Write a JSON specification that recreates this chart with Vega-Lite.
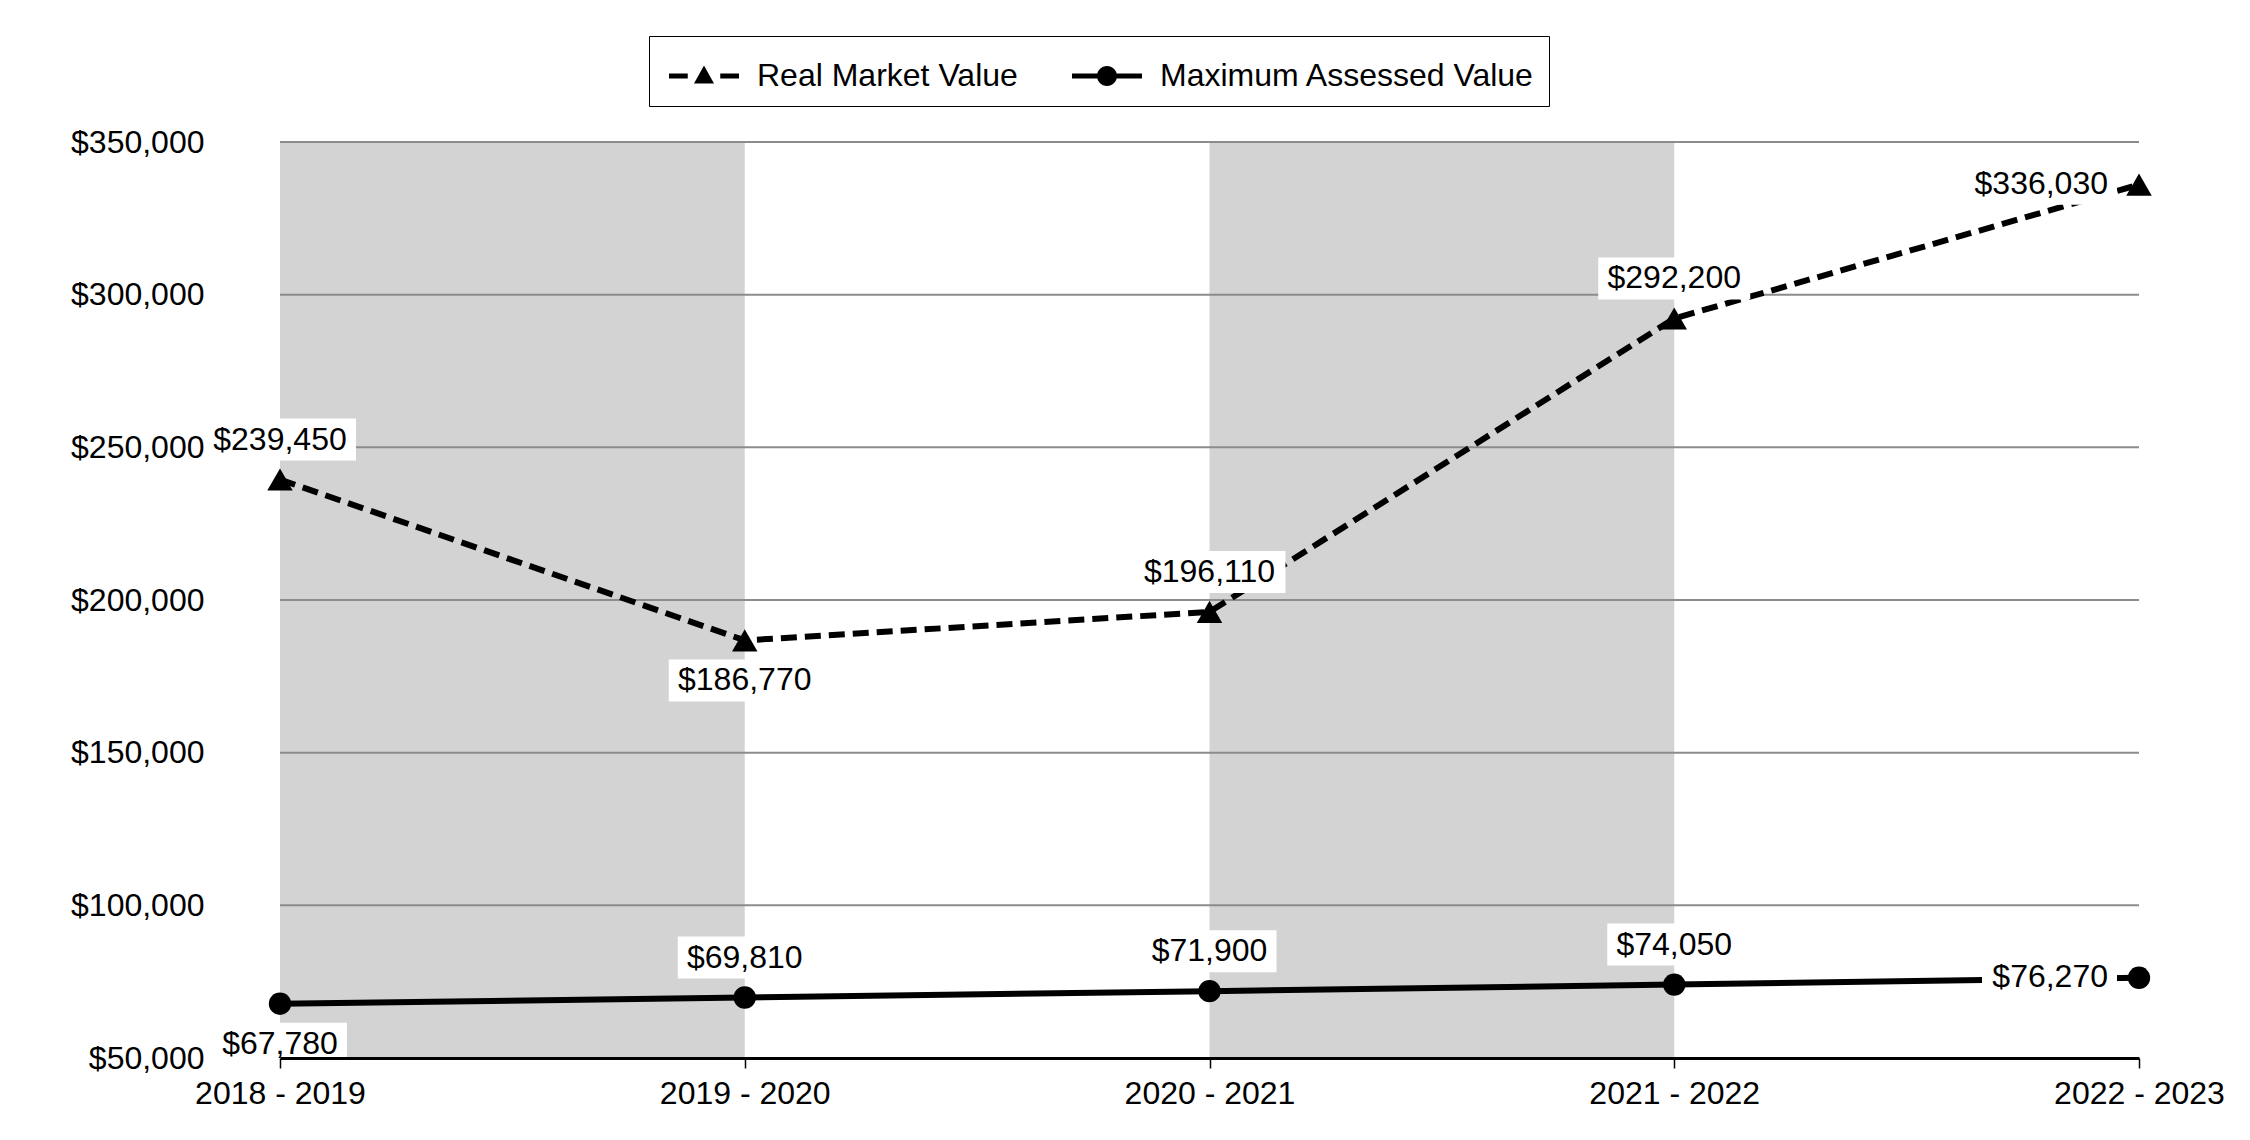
{
  "$schema": "https://vega.github.io/schema/vega-lite/v6.json",
  "width": 1859,
  "height": 916,
  "autosize": {"type": "none"},
  "padding": {"left": 280, "top": 142, "right": 111, "bottom": 82},
  "background": "white",
  "config": {"view": {"stroke": null}, "font": "Liberation Sans"},
  "datasets": {
    "values": [
      {"series": "Real Market Value", "year": "2018 - 2019", "value": 239450},
      {"series": "Real Market Value", "year": "2019 - 2020", "value": 186770},
      {"series": "Real Market Value", "year": "2020 - 2021", "value": 196110},
      {"series": "Real Market Value", "year": "2021 - 2022", "value": 292200},
      {"series": "Real Market Value", "year": "2022 - 2023", "value": 336030},
      {"series": "Maximum Assessed Value", "year": "2018 - 2019", "value": 67780},
      {"series": "Maximum Assessed Value", "year": "2019 - 2020", "value": 69810},
      {"series": "Maximum Assessed Value", "year": "2020 - 2021", "value": 71900},
      {"series": "Maximum Assessed Value", "year": "2021 - 2022", "value": 74050},
      {"series": "Maximum Assessed Value", "year": "2022 - 2023", "value": 76270}
    ],
    "bands": [
      {"year": "2018 - 2019", "end": "2019 - 2020"},
      {"year": "2020 - 2021", "end": "2021 - 2022"}
    ],
    "grid": [
      {"value": 100000}, {"value": 150000}, {"value": 200000},
      {"value": 250000}, {"value": 300000}, {"value": 350000}
    ]
  },
  "layer": [
    {
      "data": {"name": "bands"},
      "mark": {"type": "rect", "color": "#d3d3d3"},
      "encoding": {
        "x": {"field": "year", "type": "ordinal", "scale": {"type": "point", "padding": 0, "domain": ["2018 - 2019", "2019 - 2020", "2020 - 2021", "2021 - 2022", "2022 - 2023"]},
          "axis": {"title": null, "labelAngle": 0, "labelFontSize": 32, "labelFont": "Liberation Sans", "labelColor": "black", "labelPadding": 10, "domainColor": "black", "domainWidth": 3, "tickColor": "black", "tickWidth": 1.5, "tickSize": 10, "grid": false, "labelFlush": false, "labelOverlap": false}},
        "x2": {"field": "end"}
      }
    },
    {
      "data": {"name": "grid"},
      "mark": {"type": "rule", "color": "#8c8c8c", "strokeWidth": 2},
      "encoding": {
        "y": {"field": "value", "type": "quantitative", "scale": {"domain": [50000, 350000], "nice": false, "zero": false},
          "axis": {"title": null, "values": [50000, 100000, 150000, 200000, 250000, 300000, 350000], "format": "$,.0f", "labelFontSize": 32, "labelFont": "Liberation Sans", "labelColor": "black", "labelPadding": 76, "domain": false, "ticks": false, "grid": false, "labelFlush": false, "labelOverlap": false}}
      }
    },
    {
      "data": {"name": "values"},
      "transform": [{"filter": "datum.series === 'Real Market Value'"}],
      "mark": {"type": "line", "color": "black", "strokeWidth": 6, "strokeDash": [16, 8]},
      "encoding": {
        "x": {"field": "year", "type": "ordinal", "scale": {"type": "point", "padding": 0, "domain": ["2018 - 2019", "2019 - 2020", "2020 - 2021", "2021 - 2022", "2022 - 2023"]},
          "axis": {"title": null, "labelAngle": 0, "labelFontSize": 32, "labelFont": "Liberation Sans", "labelColor": "black", "labelPadding": 10, "domainColor": "black", "domainWidth": 3, "tickColor": "black", "tickWidth": 1.5, "tickSize": 10, "grid": false, "labelFlush": false, "labelOverlap": false}},
        "y": {"field": "value", "type": "quantitative", "scale": {"domain": [50000, 350000], "nice": false, "zero": false},
          "axis": {"title": null, "values": [50000, 100000, 150000, 200000, 250000, 300000, 350000], "format": "$,.0f", "labelFontSize": 32, "labelFont": "Liberation Sans", "labelColor": "black", "labelPadding": 76, "domain": false, "ticks": false, "grid": false, "labelFlush": false, "labelOverlap": false}}
      }
    },
    {
      "data": {"name": "values"},
      "transform": [{"filter": "datum.series === 'Maximum Assessed Value'"}],
      "mark": {"type": "line", "color": "black", "strokeWidth": 6},
      "encoding": {
        "x": {"field": "year", "type": "ordinal", "scale": {"type": "point", "padding": 0, "domain": ["2018 - 2019", "2019 - 2020", "2020 - 2021", "2021 - 2022", "2022 - 2023"]},
          "axis": {"title": null, "labelAngle": 0, "labelFontSize": 32, "labelFont": "Liberation Sans", "labelColor": "black", "labelPadding": 10, "domainColor": "black", "domainWidth": 3, "tickColor": "black", "tickWidth": 1.5, "tickSize": 10, "grid": false, "labelFlush": false, "labelOverlap": false}},
        "y": {"field": "value", "type": "quantitative", "scale": {"domain": [50000, 350000], "nice": false, "zero": false},
          "axis": {"title": null, "values": [50000, 100000, 150000, 200000, 250000, 300000, 350000], "format": "$,.0f", "labelFontSize": 32, "labelFont": "Liberation Sans", "labelColor": "black", "labelPadding": 76, "domain": false, "ticks": false, "grid": false, "labelFlush": false, "labelOverlap": false}}
      }
    },
    {
      "data": {"name": "values"},
      "transform": [{"filter": "datum.year !== '2022 - 2023' && !((datum.series === 'Real Market Value' && datum.year === '2019 - 2020') || (datum.series === 'Maximum Assessed Value' && datum.year === '2018 - 2019'))"}],
      "encoding": {
        "x": {"field": "year", "type": "ordinal", "scale": {"type": "point", "padding": 0, "domain": ["2018 - 2019", "2019 - 2020", "2020 - 2021", "2021 - 2022", "2022 - 2023"]},
          "axis": {"title": null, "labelAngle": 0, "labelFontSize": 32, "labelFont": "Liberation Sans", "labelColor": "black", "labelPadding": 10, "domainColor": "black", "domainWidth": 3, "tickColor": "black", "tickWidth": 1.5, "tickSize": 10, "grid": false, "labelFlush": false, "labelOverlap": false}},
        "y": {"field": "value", "type": "quantitative", "scale": {"domain": [50000, 350000], "nice": false, "zero": false},
          "axis": {"title": null, "values": [50000, 100000, 150000, 200000, 250000, 300000, 350000], "format": "$,.0f", "labelFontSize": 32, "labelFont": "Liberation Sans", "labelColor": "black", "labelPadding": 76, "domain": false, "ticks": false, "grid": false, "labelFlush": false, "labelOverlap": false}}
      },
      "layer": [
        {
          "mark": {"type": "point", "filled": true, "fill": "white", "strokeWidth": 0, "opacity": 1, "size": 4, "yOffset": -40},
          "encoding": {"shape": {"condition": {"test": "datum.value < 100000", "value": "M-67,-21H67V21H-67Z"}, "value": "M-76,-21H76V21H-76Z"}}
        },
        {
          "mark": {"type": "text", "fontSize": 32, "color": "black", "align": "center", "baseline": "middle", "yOffset": -40},
          "encoding": {"text": {"field": "value", "type": "quantitative", "format": "$,.0f"}}
        }
      ]
    },
    {
      "data": {"name": "values"},
      "transform": [{"filter": "(datum.series === 'Real Market Value' && datum.year === '2019 - 2020') || (datum.series === 'Maximum Assessed Value' && datum.year === '2018 - 2019')"}],
      "encoding": {
        "x": {"field": "year", "type": "ordinal", "scale": {"type": "point", "padding": 0, "domain": ["2018 - 2019", "2019 - 2020", "2020 - 2021", "2021 - 2022", "2022 - 2023"]},
          "axis": {"title": null, "labelAngle": 0, "labelFontSize": 32, "labelFont": "Liberation Sans", "labelColor": "black", "labelPadding": 10, "domainColor": "black", "domainWidth": 3, "tickColor": "black", "tickWidth": 1.5, "tickSize": 10, "grid": false, "labelFlush": false, "labelOverlap": false}},
        "y": {"field": "value", "type": "quantitative", "scale": {"domain": [50000, 350000], "nice": false, "zero": false},
          "axis": {"title": null, "values": [50000, 100000, 150000, 200000, 250000, 300000, 350000], "format": "$,.0f", "labelFontSize": 32, "labelFont": "Liberation Sans", "labelColor": "black", "labelPadding": 76, "domain": false, "ticks": false, "grid": false, "labelFlush": false, "labelOverlap": false}}
      },
      "layer": [
        {
          "mark": {"type": "point", "filled": true, "fill": "white", "strokeWidth": 0, "opacity": 1, "size": 4, "yOffset": 40},
          "encoding": {"shape": {"condition": {"test": "datum.value < 100000", "value": "M-67,-21H67V21H-67Z"}, "value": "M-76,-21H76V21H-76Z"}}
        },
        {
          "mark": {"type": "text", "fontSize": 32, "color": "black", "align": "center", "baseline": "middle", "yOffset": 40},
          "encoding": {"text": {"field": "value", "type": "quantitative", "format": "$,.0f"}}
        }
      ]
    },
    {
      "data": {"name": "values"},
      "transform": [{"filter": "datum.year === '2022 - 2023'"}],
      "encoding": {
        "x": {"field": "year", "type": "ordinal", "scale": {"type": "point", "padding": 0, "domain": ["2018 - 2019", "2019 - 2020", "2020 - 2021", "2021 - 2022", "2022 - 2023"]},
          "axis": {"title": null, "labelAngle": 0, "labelFontSize": 32, "labelFont": "Liberation Sans", "labelColor": "black", "labelPadding": 10, "domainColor": "black", "domainWidth": 3, "tickColor": "black", "tickWidth": 1.5, "tickSize": 10, "grid": false, "labelFlush": false, "labelOverlap": false}},
        "y": {"field": "value", "type": "quantitative", "scale": {"domain": [50000, 350000], "nice": false, "zero": false},
          "axis": {"title": null, "values": [50000, 100000, 150000, 200000, 250000, 300000, 350000], "format": "$,.0f", "labelFontSize": 32, "labelFont": "Liberation Sans", "labelColor": "black", "labelPadding": 76, "domain": false, "ticks": false, "grid": false, "labelFlush": false, "labelOverlap": false}}
      },
      "layer": [
        {
          "mark": {"type": "point", "filled": true, "fill": "white", "strokeWidth": 0, "opacity": 1, "size": 4, "yOffset": -1},
          "encoding": {"shape": {"condition": {"test": "datum.value < 100000", "value": "M-157,-21H-22V21H-157Z"}, "value": "M-176,-21H-22V21H-176Z"}}
        },
        {
          "mark": {"type": "text", "fontSize": 32, "color": "black", "align": "right", "baseline": "middle", "xOffset": -31, "yOffset": -1},
          "encoding": {"text": {"field": "value", "type": "quantitative", "format": "$,.0f"}}
        }
      ]
    },
    {
      "data": {"name": "values"},
      "transform": [{"filter": "datum.series === 'Real Market Value'"}],
      "mark": {"type": "point", "shape": "triangle-up", "filled": true, "color": "black", "opacity": 1, "size": 650},
      "encoding": {
        "x": {"field": "year", "type": "ordinal", "scale": {"type": "point", "padding": 0, "domain": ["2018 - 2019", "2019 - 2020", "2020 - 2021", "2021 - 2022", "2022 - 2023"]},
          "axis": {"title": null, "labelAngle": 0, "labelFontSize": 32, "labelFont": "Liberation Sans", "labelColor": "black", "labelPadding": 10, "domainColor": "black", "domainWidth": 3, "tickColor": "black", "tickWidth": 1.5, "tickSize": 10, "grid": false, "labelFlush": false, "labelOverlap": false}},
        "y": {"field": "value", "type": "quantitative", "scale": {"domain": [50000, 350000], "nice": false, "zero": false},
          "axis": {"title": null, "values": [50000, 100000, 150000, 200000, 250000, 300000, 350000], "format": "$,.0f", "labelFontSize": 32, "labelFont": "Liberation Sans", "labelColor": "black", "labelPadding": 76, "domain": false, "ticks": false, "grid": false, "labelFlush": false, "labelOverlap": false}}
      }
    },
    {
      "data": {"name": "values"},
      "transform": [{"filter": "datum.series === 'Maximum Assessed Value'"}],
      "mark": {"type": "point", "shape": "circle", "filled": true, "color": "black", "opacity": 1, "size": 500},
      "encoding": {
        "x": {"field": "year", "type": "ordinal", "scale": {"type": "point", "padding": 0, "domain": ["2018 - 2019", "2019 - 2020", "2020 - 2021", "2021 - 2022", "2022 - 2023"]},
          "axis": {"title": null, "labelAngle": 0, "labelFontSize": 32, "labelFont": "Liberation Sans", "labelColor": "black", "labelPadding": 10, "domainColor": "black", "domainWidth": 3, "tickColor": "black", "tickWidth": 1.5, "tickSize": 10, "grid": false, "labelFlush": false, "labelOverlap": false}},
        "y": {"field": "value", "type": "quantitative", "scale": {"domain": [50000, 350000], "nice": false, "zero": false},
          "axis": {"title": null, "values": [50000, 100000, 150000, 200000, 250000, 300000, 350000], "format": "$,.0f", "labelFontSize": 32, "labelFont": "Liberation Sans", "labelColor": "black", "labelPadding": 76, "domain": false, "ticks": false, "grid": false, "labelFlush": false, "labelOverlap": false}}
      }
    },
    {
      "data": {"name": "values"},
      "transform": [{"filter": "false"}],
      "mark": {"type": "point", "filled": true, "fill": "black", "opacity": 1},
      "encoding": {
        "x": {"field": "year", "type": "ordinal", "scale": {"type": "point", "padding": 0, "domain": ["2018 - 2019", "2019 - 2020", "2020 - 2021", "2021 - 2022", "2022 - 2023"]},
          "axis": {"title": null, "labelAngle": 0, "labelFontSize": 32, "labelFont": "Liberation Sans", "labelColor": "black", "labelPadding": 10, "domainColor": "black", "domainWidth": 3, "tickColor": "black", "tickWidth": 1.5, "tickSize": 10, "grid": false, "labelFlush": false, "labelOverlap": false}},
        "y": {"field": "value", "type": "quantitative", "scale": {"domain": [50000, 350000], "nice": false, "zero": false},
          "axis": {"title": null, "values": [50000, 100000, 150000, 200000, 250000, 300000, 350000], "format": "$,.0f", "labelFontSize": 32, "labelFont": "Liberation Sans", "labelColor": "black", "labelPadding": 76, "domain": false, "ticks": false, "grid": false, "labelFlush": false, "labelOverlap": false}},
        "shape": {"field": "series", "type": "nominal",
          "scale": {"domain": ["Real Market Value", "Maximum Assessed Value"], "range": [
            "M-0.8,-0.1H-0.05V0.1H-0.8Z M1.25,-0.1H2V0.1H1.25Z M0.6,-0.42L1,0.3H0.2Z",
            "M-0.8,-0.1H0.25V0.1H-0.8Z M0.95,-0.1H2V0.1H0.95Z M1,0A0.4,0.4 0 1,1 0.2,0A0.4,0.4 0 1,1 1,0Z"]},
          "legend": {"title": null, "orient": "none", "legendX": 369, "legendY": -106, "direction": "horizontal", "labelFontSize": 32, "labelFont": "Liberation Sans", "labelColor": "black", "labelLimit": 500, "symbolSize": 2500, "symbolFillColor": "black", "symbolOpacity": 1, "labelOffset": 42, "columnPadding": 48, "padding": 14, "strokeColor": "black"}
        }
      }
    }
  ]
}
